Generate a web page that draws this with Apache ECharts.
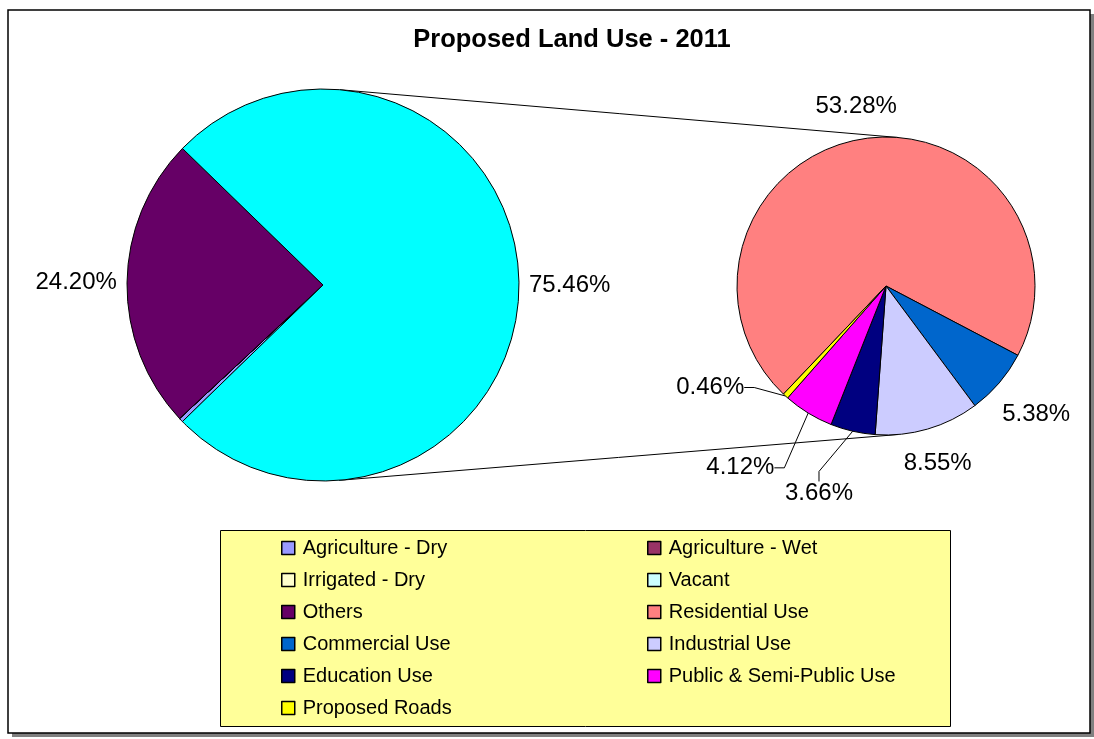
<!DOCTYPE html>
<html>
<head>
<meta charset="utf-8">
<title>Proposed Land Use - 2011</title>
<script src="https://cdn.jsdelivr.net/npm/echarts@6/dist/echarts.min.js"></script>
<style>
  html, body { margin: 0; padding: 0; background: #ffffff; }
  #chart { width: 1094px; height: 739px; }
</style>
</head>
<body>
<div id="chart"></div>
<script>
// ---- Data: share of total area, in percent ----
const mainNames = ['Agriculture - Dry', 'Agriculture - Wet', 'Irrigated - Dry', 'Vacant', 'Others'];
const mainValues = [0.34, 0, 0, 0, 24.20];

// Urban uses, shown as one slice on the main pie and split on the secondary pie
const urbanName = 'Urban Uses';
const urbanValue = 75.46;
const detailNames = ['Residential Use', 'Commercial Use', 'Industrial Use', 'Education Use',
                     'Public & Semi-Public Use', 'Proposed Roads'];
const detailValues = [53.28, 5.38, 8.55, 3.66, 4.12, 0.46];

// Legend entries, row by row in two columns
const legendOrder = ['Agriculture - Dry', 'Agriculture - Wet', 'Irrigated - Dry', 'Vacant', 'Others',
                     'Residential Use', 'Commercial Use', 'Industrial Use', 'Education Use',
                     'Public & Semi-Public Use', 'Proposed Roads'];

// ---- Styling ----
const mainColors = ['#9999FF', '#993366', '#FFFFCC', '#CCFFFF', '#660066'];
const urbanColor = '#00FFFF';
const detailColors = ['#FF8080', '#0066CC', '#CCCCFF', '#000080', '#FF00FF', '#FFFF00'];
const FONT = '"Liberation Sans", Arial, sans-serif';

// ---- Layout ----
const LEFT = { cx: 323, cy: 285, r: 196, gap: 10 };
const RIGHT = { cx: 886, cy: 286, r: 149, gap: 15, startAngle: 226.5 };
// polar anchors (degrees, px from centre) for the small labels that use leader lines
const leaderAnchors = { 3: [-107.9, 218], 4: [-128.7, 233], 5: [-150, 203] };

const mainTotal = mainValues.reduce((a, b) => a + b, 0) + urbanValue;
// the urban slice faces the secondary pie
LEFT.startAngle = 360 * (mainTotal - urbanValue) / mainTotal + 180 * urbanValue / mainTotal;

function midAngles(values, start) {
  const total = values.reduce((a, b) => a + b, 0);
  let a = start;
  return values.map(v => {
    const sweep = v / total * 360;
    const mid = a - sweep / 2;
    a -= sweep;
    return mid;
  });
}

function outsidePoint(pie, deg, rect) {
  const t = deg * Math.PI / 180;
  const c = Math.cos(t), s = Math.sin(t);
  const d = pie.r + pie.gap + Math.abs(c) * rect.width / 2 + Math.abs(s) * rect.height / 2;
  return { x: pie.cx + c * d, y: pie.cy - s * d, align: 'center', verticalAlign: 'middle' };
}

const mainMids = midAngles(mainValues.concat([urbanValue]), LEFT.startAngle);
const detailMids = midAngles(detailValues, RIGHT.startAngle);

// outer common tangents joining the two pies
function outerTangents(a, b) {
  const dx = b.cx - a.cx, dy = b.cy - a.cy;
  const d = Math.hypot(dx, dy);
  const base = Math.atan2(dy, dx);
  const alpha = Math.acos((a.r - b.r) / d);
  return [base - alpha, base + alpha].map(phi => {
    const nx = Math.cos(phi), ny = Math.sin(phi);
    return [a.cx + a.r * nx, a.cy + a.r * ny, b.cx + b.r * nx, b.cy + b.r * ny];
  });
}

const pctLabel = p => p.value.toFixed(2) + '%';
const labelStyle = { show: true, position: 'outside', formatter: pctLabel,
                     fontFamily: FONT, fontSize: 24, color: '#000' };

const mainData = mainNames.map((n, i) => ({
  name: n, value: mainValues[i],
  itemStyle: { color: mainColors[i] },
  label: { show: n === 'Others' }
}));
mainData.push({ name: urbanName, value: urbanValue, itemStyle: { color: urbanColor }, label: { show: true } });

const detailData = detailNames.map((n, i) => ({
  name: n, value: detailValues[i],
  itemStyle: { color: detailColors[i] },
  labelLine: { show: leaderAnchors[i] !== undefined }
}));

const legendCommon = {
  orient: 'vertical', top: 538, padding: 0, itemGap: 12,
  itemWidth: 13, itemHeight: 13, icon: 'rect', selectedMode: false,
  itemStyle: { borderColor: '#000', borderWidth: 1.5 },
  textStyle: { fontFamily: FONT, fontSize: 20, color: '#000', lineHeight: 20, padding: [0, 0, 0, 3] }
};

const tangents = outerTangents(LEFT, RIGHT);

const chart = echarts.init(document.getElementById('chart'), null, { renderer: 'canvas' });
chart.setOption({
  animation: false,
  backgroundColor: '#ffffff',
  title: {
    text: 'Proposed Land Use - 2011',
    left: 572, top: 27, textAlign: 'center', padding: 0,
    textStyle: { fontFamily: FONT, fontSize: 25.5, fontWeight: 'bold', color: '#000' }
  },
  legend: [
    Object.assign({ left: 281, data: legendOrder.filter((_, i) => i % 2 === 0) }, legendCommon),
    Object.assign({ left: 647, data: legendOrder.filter((_, i) => i % 2 === 1) }, legendCommon)
  ],
  graphic: [
    { type: 'rect', z: -10, shape: { x: 12, y: 14, width: 1082, height: 723 },
      style: { fill: '#808080' } },
    { type: 'rect', z: -9, shape: { x: 8, y: 10, width: 1082, height: 723 },
      style: { fill: '#ffffff', stroke: '#000', lineWidth: 1.5 } },
    { type: 'rect', z: -8, shape: { x: 220.5, y: 530.5, width: 730, height: 196 },
      style: { fill: '#FFFF99', stroke: '#000', lineWidth: 1 } }
  ].concat(tangents.map(t => ({
    type: 'line', z: -7,
    shape: { x1: t[0], y1: t[1], x2: t[2], y2: t[3] },
    style: { stroke: '#000', lineWidth: 1 }
  }))),
  series: [
    {
      type: 'pie',
      name: 'Land use',
      center: [LEFT.cx, LEFT.cy],
      radius: LEFT.r,
      startAngle: LEFT.startAngle,
      clockwise: true,
      avoidLabelOverlap: false,
      silent: true,
      itemStyle: { borderColor: '#000', borderWidth: 1 },
      label: labelStyle,
      labelLine: { show: false },
      labelLayout: p => outsidePoint(LEFT, mainMids[p.dataIndex], p.labelRect),
      data: mainData
    },
    {
      type: 'pie',
      name: 'Urban uses',
      center: [RIGHT.cx, RIGHT.cy],
      radius: RIGHT.r,
      startAngle: RIGHT.startAngle,
      clockwise: true,
      avoidLabelOverlap: false,
      silent: true,
      itemStyle: { borderColor: '#000', borderWidth: 1 },
      label: labelStyle,
      labelLine: { length: 10, length2: 10, smooth: false, lineStyle: { color: '#000', width: 1 } },
      labelLayout: p => {
        const anchor = leaderAnchors[p.dataIndex];
        if (anchor) {
          const t = anchor[0] * Math.PI / 180;
          return { x: RIGHT.cx + Math.cos(t) * anchor[1], y: RIGHT.cy - Math.sin(t) * anchor[1],
                   align: 'center', verticalAlign: 'middle' };
        }
        return outsidePoint(RIGHT, detailMids[p.dataIndex], p.labelRect);
      },
      data: detailData
    }
  ]
});
</script>
</body>
</html>
